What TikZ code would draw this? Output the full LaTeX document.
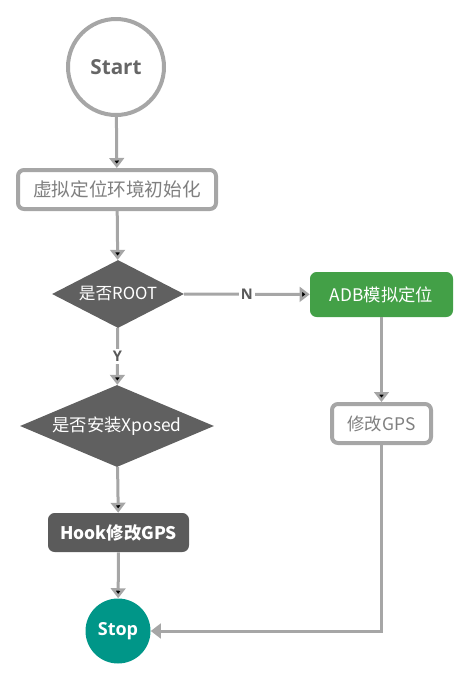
\documentclass[tikz,border=0pt]{standalone}
\usepackage{fontspec}
\setmainfont{Noto Sans CJK SC}
\newfontfamily\latinfont{Open Sans}
\usetikzlibrary{shapes.geometric,arrows.meta}
\definecolor{linegray}{HTML}{A6A6A6}
\definecolor{darkfill}{HTML}{606060}
\definecolor{okgreen}{HTML}{43A047}
\definecolor{stopteal}{HTML}{009688}
\definecolor{textgray}{HTML}{7F7F7F}
\begin{document}
\begin{tikzpicture}[x=0.75pt, y=-0.75pt]
      \tikzset{terminal/.style={circle, inner sep=0pt, font=\latinfont\bfseries},
               outlinebox/.style={draw=linegray, line width=3pt, rounded corners=4.5pt, inner sep=0pt, fill=white, text=textgray, font=\fontsize{13pt}{15pt}\selectfont},
               filledbox/.style={rounded corners=5pt, inner sep=0pt, text=white, font=\fontsize{13pt}{15pt}\selectfont},
               decision/.style={diamond, fill=darkfill, inner sep=0pt},
               flowline/.style={draw=linegray, line width=2.25pt, -{Triangle[length=7.5pt,width=11pt]}},
               yesno/.style={fill=white, text=black!65, inner sep=1.5pt, font=\latinfont\bfseries\fontsize{11pt}{13pt}\selectfont}}
      \useasboundingbox (0,0) rectangle (469,679);
%% Nodes
      	\node[terminal, draw=linegray, line width=3pt, fill=white, minimum size=72pt, text=black!60, font=\latinfont\bfseries\fontsize{15.5pt}{18pt}\selectfont] (start) at (116,67) {Start};
      	\node[outlinebox, minimum width=148.5pt, minimum height=29.25pt, font=\fontsize{14pt}{16pt}\selectfont] (init) at (117,189.5) {虚拟定位环境初始化};
    	\node[decision, minimum width=99pt, minimum height=51pt, label={[text=white, font=\fontsize{12.5pt}{15pt}\selectfont]center:是否ROOT}] (root) at (118,294) {};
  	    \node[filledbox, fill=okgreen, minimum width=107.25pt, minimum height=33.75pt] (adb) at (381.5,294.5) {ADB模拟定位};
    	\node[decision, minimum width=145.5pt, minimum height=61.5pt, label={[text=white, font=\fontsize{13pt}{15pt}\selectfont]center:是否安装Xposed}] (xposed) at (117,426) {};
  	    \node[outlinebox, minimum width=74.25pt, minimum height=29.25pt] (gps) at (381.5,423.5) {修改GPS};
  	    \node[filledbox, fill=darkfill!95!black, minimum width=105.75pt, minimum height=29.25pt, font=\bfseries\fontsize{13pt}{15pt}\selectfont] (hook) at (118.5,532.5) {Hook修改GPS};
      	\node[terminal, fill=stopteal, minimum size=48.75pt, text=white, font=\latinfont\bfseries\fontsize{13.5pt}{16pt}\selectfont] (stop) at (118,631) {Stop};
%Edges
		\path[flowline] (start) edge (init);
		\path[flowline] (init) edge (root);
		\path[flowline] (root) edge node[yesno] {N} (adb);
		\path[flowline] (root) edge node[yesno] {Y} (xposed);
		\path[flowline] (adb) edge (gps);
		\path[flowline] (xposed) edge (hook);
		\path[flowline] (hook) edge (stop);
		\draw[flowline] (gps) |- (stop);
	\end{tikzpicture}
\end{document}
